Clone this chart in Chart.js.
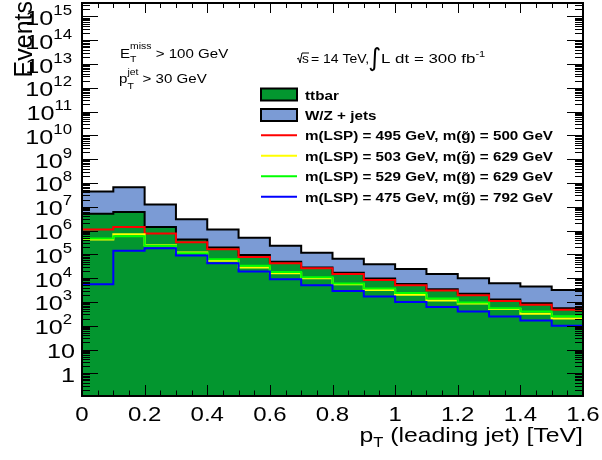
<!DOCTYPE html>
<html>
<head>
<meta charset="utf-8">
<script src="https://cdn.jsdelivr.net/npm/chart.js@4.4.0/dist/chart.umd.min.js"></script>
<style>
  body { margin: 0; background: #fff; }
  #wrap { width: 602px; height: 460px; }
</style>
</head>
<body>
<div id="wrap"><canvas id="ptChart"></canvas></div>
<script>
// Bin edges of the leading jet pT (TeV), 16 bins of 0.1
const binEdges = [0, 0.1, 0.2, 0.3, 0.4, 0.5, 0.6, 0.7, 0.8, 0.9, 1.0, 1.1, 1.2, 1.3, 1.4, 1.5, 1.6];

// Backgrounds (stacked)
const ttbar  = [5.1e6, 6.0e6, 1.4e6, 4.2e5, 1.95e5, 9.3e4, 4.9e4, 2.8e4, 1.7e4, 9.6e3, 5.7e3, 3.4e3, 2.2e3, 1.25e3, 870, 540];
const wzJets = [3.9e7, 6.0e7, 1.1e7, 2.6e6, 9.0e5, 4.0e5, 1.8e5, 8.9e4, 4.8e4, 2.85e4, 1.85e4, 1.15e4, 7.6e3, 4.9e3, 3.55e3, 2.6e3];

// Signal points
const sig495_500 = [1.1e6, 1.4e6, 7.5e5, 3.2e5, 1.65e5, 7.7e4, 4.2e4, 2.6e4, 1.5e4, 8.4e3, 5.0e3, 3.0e3, 1.9e3, 1.1e3, 760, 470];
const sig503_629 = [4.2e5, 7.0e5, 2.4e5, 1.2e5, 5.4e4, 2.8e4, 1.6e4, 1.0e4, 5.5e3, 3.2e3, 2.0e3, 1.15e3, 850, 500, 320, 200];
const sig529_629 = [4.6e5, 5.8e5, 2.3e5, 1.1e5, 6.2e4, 3.3e4, 1.8e4, 1.1e4, 6.0e3, 3.7e3, 2.4e3, 1.4e3, 950, 540, 400, 250];
const sig475_792 = [5.5e3, 1.4e5, 1.8e5, 9.0e4, 4.2e4, 1.9e4, 8.9e3, 5.0e3, 2.9e3, 1.7e3, 1.0e3, 610, 400, 245, 167, 100];

// Axis ticks
const xTickValues = [0, 0.2, 0.4, 0.6, 0.8, 1.0, 1.2, 1.4, 1.6];
const xTickLabels = ['0', '0.2', '0.4', '0.6', '0.8', '1', '1.2', '1.4', '1.6'];
const yTickExps = [0, 1, 2, 3, 4, 5, 6, 7, 8, 9, 10, 11, 12, 13, 14, 15];

const legendLabels = ['ttbar', 'W/Z + jets',
  'm(LSP) = 495 GeV, m(g\u0303) = 500 GeV',
  'm(LSP) = 503 GeV, m(g\u0303) = 629 GeV',
  'm(LSP) = 529 GeV, m(g\u0303) = 629 GeV',
  'm(LSP) = 475 GeV, m(g\u0303) = 792 GeV'];

const ttbarColor = '#03962f';
const wzColor = '#7b9bd5';
const sigColors = ['#ff0000', '#ffff00', '#00ff00', '#0000ff'];

const FONT = '"Liberation Sans", Arial, Helvetica, sans-serif';

// histogram -> step points (last value repeated at the right edge)
function toSteps(vals) {
  return binEdges.map((e, i) => ({ x: e, y: vals[Math.min(i, vals.length - 1)] }));
}

const stackTotal = ttbar.map((v, i) => v + wzJets[i]);

// draw a piece of text stretched horizontally (ROOT fonts come out wide)
function drawParts(ctx, parts, x, y, sx) {
  let cx = x;
  parts.forEach(p => {
    ctx.font = (p.b ? 'bold ' : '') + p.s + 'px ' + FONT;
    ctx.save();
    ctx.translate(cx, y + (p.dy || 0));
    ctx.scale(sx, 1);
    ctx.fillText(p.t, 0, 0);
    ctx.restore();
    if (!p.keep) cx += ctx.measureText(p.t).width * sx;
  });
  return cx;
}
function partsWidth(ctx, parts, sx) {
  let w = 0;
  parts.forEach(p => {
    ctx.font = (p.b ? 'bold ' : '') + p.s + 'px ' + FONT;
    if (!p.keep) w += ctx.measureText(p.t).width * sx;
  });
  return w;
}

const rootStyle = {
  id: 'rootStyle',
  afterDatasetsDraw(chart) {
    const { ctx, chartArea: a, scales: { x, y } } = chart;
    ctx.save();
    ctx.strokeStyle = '#000';
    ctx.lineWidth = 1;
    ctx.beginPath();
    // x ticks every 0.05, majors every 0.2
    for (let i = 0; i <= 32; i++) {
      const px = Math.round(x.getPixelForValue(i * 0.05)) + 0.5;
      const major = i % 4 === 0;
      ctx.moveTo(px, a.bottom); ctx.lineTo(px, a.bottom - (major ? 11 : 5.5));
      ctx.moveTo(px, a.top); ctx.lineTo(px, a.top + (major ? 10 : 5));
    }
    // y log ticks
    for (let e = -1; e <= 15; e++) {
      for (let m = 1; m <= 9; m++) {
        const v = m * Math.pow(10, e);
        if (v < y.min || v > y.max) continue;
        const py = Math.round(y.getPixelForValue(v)) + 0.5;
        const len = m === 1 ? 16 : 8;
        ctx.moveTo(a.left, py); ctx.lineTo(a.left + len, py);
        ctx.moveTo(a.right, py); ctx.lineTo(a.right - len, py);
      }
    }
    ctx.stroke();
    ctx.lineWidth = 2;
    ctx.strokeRect(a.left, a.top, a.right - a.left, a.bottom - a.top);
    ctx.restore();
  },
  afterDraw(chart) {
    const { ctx, chartArea: a, scales: { x, y } } = chart;
    ctx.save();
    ctx.fillStyle = '#000';
    ctx.textBaseline = 'alphabetic';
    const sx = 1.2;

    // x tick labels
    xTickValues.forEach((v, i) => {
      const parts = [{ t: xTickLabels[i], s: 20 }];
      const w = partsWidth(ctx, parts, sx);
      drawParts(ctx, parts, x.getPixelForValue(v) - w / 2, 421, sx);
    });

    // y tick labels
    yTickExps.forEach(e => {
      const py = y.getPixelForValue(Math.pow(10, e));
      let parts;
      if (e === 0) parts = [{ t: '1', s: 21 }];
      else if (e === 1) parts = [{ t: '10', s: 21 }];
      else parts = [{ t: '10', s: 21 }, { t: String(e), s: 14, dy: -10 }];
      const right = e < 2 ? 75 : 72;
      const w = partsWidth(ctx, parts, sx);
      drawParts(ctx, parts, right - w, py + 8.5, sx);
    });

    // axis titles
    const xt = [{ t: 'p', s: 21 }, { t: 'T', s: 14, dy: 5 }, { t: ' (leading jet) [TeV]', s: 21 }];
    drawParts(ctx, xt, a.right - partsWidth(ctx, xt, 1.18), 442, 1.18);

    ctx.save();
    ctx.translate(31.5, 1);
    ctx.rotate(-Math.PI / 2);
    ctx.font = '25px ' + FONT;
    ctx.textAlign = 'right';
    ctx.fillText('Events', 0, 0);
    ctx.restore();

    // cut annotations
    const s2 = 1.16;
    drawParts(ctx, [{ t: 'E', s: 13 }, { t: 'T', s: 9, dy: 4, keep: true }, { t: 'miss', s: 9, dy: -9 },
      { t: ' > 100 GeV', s: 13 }], 120, 58, s2);
    drawParts(ctx, [{ t: 'p', s: 13 }, { t: 'T', s: 9, dy: 6, keep: true }, { t: 'jet', s: 9, dy: -8 },
      { t: ' > 30 GeV', s: 13 }], 119, 83, s2);

    // sqrt(s) and luminosity
    const bx = 297, by = 63;
    ctx.lineWidth = 1;
    ctx.strokeStyle = '#000';
    ctx.beginPath();
    ctx.moveTo(bx, by - 4); ctx.lineTo(bx + 1.5, by - 5); ctx.lineTo(bx + 3, by);
    ctx.lineTo(bx + 5, by - 10); ctx.lineTo(bx + 12, by - 10);
    ctx.stroke();
    drawParts(ctx, [{ t: 's', s: 12.5 }], 302, by, 1.1);
    drawParts(ctx, [{ t: ' = 14 TeV,', s: 12.5 }], 307, by, 1.12);
    ctx.save();
    ctx.font = '25px "DejaVu Sans", sans-serif';
    ctx.fillText('\u222B', 368, by + 3);
    ctx.restore();
    drawParts(ctx, [{ t: 'L dt = 300 fb', s: 13 }, { t: '-1', s: 8.5, dy: -6 }], 381, by, 1.3);

    // legend
    const lx = 261, lw = 36, tx = 305;
    const rows = [94.5, 115, 135.3, 155.8, 176.3, 196.8];
    ctx.lineWidth = 2;
    [ttbarColor, wzColor].forEach((c, i) => {
      ctx.fillStyle = c;
      ctx.fillRect(lx, rows[i] - 6, lw, 12);
      ctx.strokeStyle = '#000';
      ctx.strokeRect(lx, rows[i] - 6, lw, 12);
    });
    sigColors.forEach((c, i) => {
      ctx.strokeStyle = c;
      ctx.beginPath();
      ctx.moveTo(lx, rows[i + 2]); ctx.lineTo(lx + lw, rows[i + 2]);
      ctx.stroke();
    });
    ctx.fillStyle = '#000';
    legendLabels.forEach((t, i) => {
      drawParts(ctx, [{ t: t, s: 13, b: true }], tx, rows[i] + 5, 1.17);
    });
    ctx.restore();
  }
};

function stepLine(label, vals, color, order, fill) {
  return {
    label: label,
    data: toSteps(vals),
    borderColor: color,
    borderWidth: 2,
    backgroundColor: fill || 'transparent',
    fill: fill ? 'start' : false,
    stepped: true,
    pointRadius: 0,
    order: order
  };
}

new Chart(document.getElementById('ptChart'), {
  type: 'line',
  data: {
    datasets: [
      stepLine(legendLabels[2], sig495_500, sigColors[0], 3),
      stepLine(legendLabels[3], sig503_629, sigColors[1], 2),
      stepLine(legendLabels[4], sig529_629, sigColors[2], 1),
      stepLine(legendLabels[5], sig475_792, sigColors[3], 0),
      stepLine(legendLabels[0], ttbar, '#000', 4, ttbarColor),
      stepLine(legendLabels[1], stackTotal, '#000', 5, wzColor)
    ]
  },
  options: {
    responsive: true,
    maintainAspectRatio: false,
    animation: false,
    layout: { padding: { left: 82, right: 19, top: 3, bottom: 64 } },
    scales: {
      x: { type: 'linear', min: 0, max: 1.6, display: false },
      y: { type: 'logarithmic', min: 0.111, max: 3.68e15, display: false }
    },
    plugins: {
      legend: { display: false },
      tooltip: { enabled: false }
    }
  },
  plugins: [rootStyle]
});
</script>
</body>
</html>
